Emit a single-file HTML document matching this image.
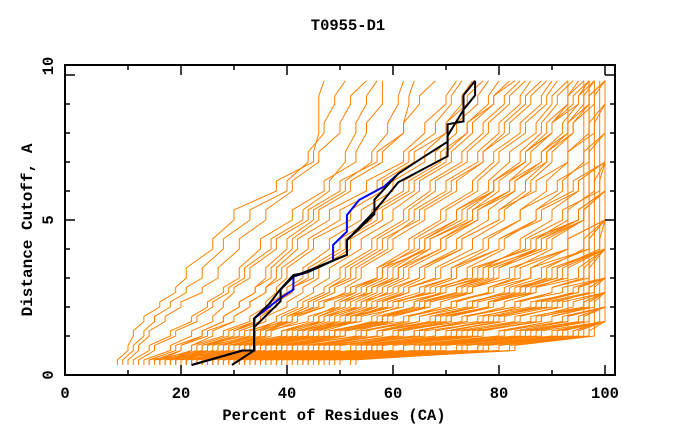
<!DOCTYPE html>
<html><head><meta charset="utf-8"><style>
html,body{margin:0;padding:0;background:#fff;}
svg{display:block;}
text{font-family:"Liberation Mono",monospace;font-weight:bold;fill:#000;}
</style></head><body>
<svg id="chart" width="680" height="440" viewBox="0 0 680 440">
<text x="348" y="30" text-anchor="middle" font-size="15.5">T0955-D1</text>
<text x="334" y="420" text-anchor="middle" font-size="15.5">Percent of Residues (CA)</text>
<text transform="translate(32,230) rotate(-90)" text-anchor="middle" font-size="16">Distance Cutoff, A</text>
<g id="series"></g>
<g id="axes"></g>
</svg>
<script>
const cutoffs = [0,0.5,1,1.5,2,2.5,3,4,5,6,7,8,9,9.8];
const xTicks = [0,10,20,30,40,50,60,70,80,90,100];
const xTickLabels = ["0","20","40","60","80","100"];
const yTickLabels = ["0","5","10"];
const models = [
[8,10,11,13,16,19,21,26,30,38,45,46,46,47],
[10,12,14,17,20,24,27,31,36,41,46,50,52,55],
[11,14,18,22,25,28,31,35,41,47,53,55,58,58],
[13,18,22,26,28,30,33,38,44,50,57,62,65,68],
[15,20,25,30,33,36,38,42,48,55,62,66,70,72],
[16,22,28,33,36,38,40,45,52,58,64,70,73,75],
[18,24,30,35,38,41,44,50,56,62,68,72,76,78],
[19,26,33,38,42,45,48,54,60,65,71,75,79,82],
[20,28,35,40,44,48,51,57,63,68,74,78,82,85],
[21,30,37,42,47,51,54,60,66,72,77,81,85,88],
[22,31,39,45,49,53,57,63,69,75,79,84,88,90],
[23,33,41,47,52,56,60,66,72,78,82,87,90,93],
[24,34,43,49,54,58,62,69,75,80,85,89,93,95],
[25,36,45,51,56,61,65,72,78,83,88,92,95,97],
[26,37,47,53,58,63,68,75,81,86,90,94,97,100],
[27,39,49,56,61,66,71,78,84,89,93,97,100],
[28,41,51,58,64,69,74,81,87,92,96,100],
[29,42,53,60,66,72,77,84,90,95,100],
[30,44,55,63,69,75,80,87,93,98,100],
[31,46,57,65,72,78,83,90,96,100],
[32,48,60,68,75,81,86,93,100],
[33,50,62,71,78,84,89,96,100],
[34,52,65,74,81,87,92,100],
[35,54,68,77,84,90,96,100],
[36,56,71,80,87,94,100],
[37,58,74,84,91,97,100],
[38,60,77,87,94,100],
[39,62,80,90,97,100],
[40,65,83,93,100],
[42,68,86,96,100],
[44,72,90,100],
[46,76,94,100],
[48,80,97,100],
[50,83,98],
[14,24,32,40,46,52,57,65,72,79,85,90,95,98],
[15,27,36,44,50,56,61,69,76,83,89,94,98,100],
[17,29,39,47,54,60,65,73,80,87,93,98,100],
[18,31,42,50,57,63,69,77,84,91,97,100],
[20,34,45,53,60,67,72,80,88,95,100],
[22,36,48,57,64,70,76,85,92,99,100],
[24,39,51,60,67,74,80,89,96,100],
[26,41,54,63,71,78,84,93,100],
[28,44,57,67,75,82,88,97,100],
[30,47,61,71,79,86,93,100],
[32,50,64,74,83,90,97,100],
[34,53,68,78,87,95,100],
[36,57,72,83,92,100],
[38,60,76,88,96,100],
[41,64,81,92,100],
[43,67,85,96,100],
[45,70,88,100],
[47,74,92,100],
[50,78,95,100],
[52,82,97],
[44,66,80,90,98,100],
[39,58,70,80,88,95,100],
[33,48,60,70,78,85,91,99,100],
[27,40,50,59,66,73,79,88,95,100],
[16,25,34,41,47,53,58,67,75,82,88,93,97,100],
[21,33,44,52,59,65,71,80,87,94,100],
[25,38,49,58,65,72,78,87,95,100],
[29,45,58,68,76,84,91,100],
[35,55,70,81,90,98,100],
[42,66,84,95,100],
[46,73,91,100],
[9,11,13,15,18,21,24,28,33,40,44,47,49,51],
[12,15,19,23,26,29,32,37,43,48,51,53,55,57],
[14,19,24,28,31,34,37,41,46,52,58,62,63,64],
[17,23,29,34,37,40,43,48,54,60,66,70,74,77],
[19,25,31,36,40,43,46,52,58,64,70,74,78,80],
[20,27,34,39,43,47,50,56,62,67,73,77,81,84],
[22,29,36,41,45,49,53,59,64,70,76,80,84,86],
[23,32,40,46,50,54,58,64,70,76,80,85,89,91],
[24,33,42,48,53,57,61,67,74,79,84,88,91,94],
[25,35,44,50,55,59,63,70,76,82,86,90,93,96],
[26,36,46,52,57,62,66,73,80,85,89,93,96,98],
[18,22,26,30,33,36,39,44,50,57,63,68,71,73],
[16,20,24,28,31,34,36,40,45,51,56,59,61,62],
[21,25,30,34,38,41,45,51,57,63,69,74,79,83],
[24,30,36,40,44,48,52,58,65,71,77,82,86,89],
[27,34,40,46,51,55,59,66,73,79,85,90,94,97],
[15,30,42,52,60,68,75,86,95,100],
[19,35,48,58,67,75,82,93,100],
[23,40,54,65,74,83,90,100],
[28,46,61,73,83,92,100],
[31,50,66,79,89,97,100],
[35,56,73,86,96,100],
[40,62,80,93,100],
[17,32,44,54,62,70,77,88,96,100],
[21,38,51,62,71,79,86,97,100],
[25,43,57,69,78,87,95,100],
[30,49,64,76,86,95,100],
[37,58,75,88,97,100],
[43,69,87,97],
[48,76,93],
[53,80,96],
[49,77,94,99]
];
const blackX1 = [22,31.6,33.8,33.8,36.6,38.7,41.2,43.9,48.7,51.3,51.3,56.5,56.5,61,66,70.3,70.3,73.3,73.3,75.5];
const blackY1 = [0,0.5,0.5,1.6,2.1,2.6,3.1,3.2,3.6,3.8,4.3,5.2,5.7,6.6,7.2,7.7,8.3,8.4,9.3,9.8];
const blackX2 = [29.6,33.8,33.8,38.8,38.8,41.2,46,51.3,51.3,56.5,61,70.3,70.3,73.3,75.5,75.5];
const blackY2 = [0,0.5,1.3,2.2,2.6,3.05,3.4,3.8,4.3,5.3,6.3,7.2,7.9,8.8,9.3,9.8];
const blueX = [22,31.6,33.8,33.8,38.7,41.2,41.2,43.9,48.7,48.7,51.3,51.3,53.6,58.3,61];
const blueY = [0,0.5,0.5,1.6,2.3,2.6,3.05,3.2,3.6,4.14,4.6,5.17,5.69,6.15,6.6];

const NS = "http://www.w3.org/2000/svg";
const L = 65, R = 615, T = 65, B = 375;
function sx(v){ return 75 + 5.3 * v; }
function sy(v){ return 365 - 29 * v; }
const series = document.getElementById('series');
const axes = document.getElementById('axes');
const topCut = cutoffs[cutoffs.length - 1];

models.forEach(function(m){
  const pts = [];
  for (let j = 0; j < m.length; j++){
    if (j > 0){
      const yMid = cutoffs[j-1] + 0.35 * (cutoffs[j] - cutoffs[j-1]);
      pts.push(sx(m[j-1]).toFixed(1) + ',' + sy(yMid).toFixed(1));
    }
    pts.push(sx(m[j]).toFixed(1) + ',' + sy(cutoffs[j]).toFixed(1));
  }
  if (m.length < cutoffs.length){
    pts.push(sx(m[m.length-1]).toFixed(1) + ',' + sy(topCut).toFixed(1));
  }
  const pl = document.createElementNS(NS, 'polyline');
  pl.setAttribute('points', pts.join(' '));
  pl.setAttribute('fill', 'none');
  pl.setAttribute('stroke', '#ff8000');
  pl.setAttribute('stroke-width', '1');
  
  
  series.appendChild(pl);
});
function drawLine(xs, ys, color, name){
  const pts = xs.map(function(x, j){ return sx(x).toFixed(1) + ',' + sy(ys[j]).toFixed(1); }).join(' ');
  const pl = document.createElementNS(NS, 'polyline');
  pl.setAttribute('points', pts);
  pl.setAttribute('fill', 'none');
  pl.setAttribute('stroke', color);
  pl.setAttribute('stroke-width', '2');
  
  
  series.appendChild(pl);
}
drawLine(blueX, blueY, '#0000ff', 'highlight-curve-blue');
drawLine(blackX1, blackY1, '#000000', 'reference-curve-1');
drawLine(blackX2, blackY2, '#000000', 'reference-curve-2');

function line(x1,y1,x2,y2,name){
  const l = document.createElementNS(NS, 'line');
  l.setAttribute('x1', x1); l.setAttribute('y1', y1);
  l.setAttribute('x2', x2); l.setAttribute('y2', y2);
  l.setAttribute('stroke', '#000'); l.setAttribute('stroke-width', '1.5');
  
  
  axes.appendChild(l);
}
const frame = document.createElementNS(NS, 'rect');
frame.setAttribute('x', L); frame.setAttribute('y', T);
frame.setAttribute('width', R - L); frame.setAttribute('height', B - T);
frame.setAttribute('fill', 'none'); frame.setAttribute('stroke', '#000'); frame.setAttribute('stroke-width', '2');


axes.appendChild(frame);

xTicks.forEach(function(v){
  if (v === 0) return;
  const len = (v % 20 === 0) ? 10 : 5;
  line(sx(v), B, sx(v), B - len, 'x-tick');
  line(sx(v), T, sx(v), T + len, 'x-tick-top');
});
for (let v = 1; v <= 10; v++){
  const len = (v % 5 === 0) ? 10 : 5;
  line(L, sy(v), L + len, sy(v), 'y-tick');
  line(R, sy(v), R - len, sy(v), 'y-tick-right');
}
const xLabelPos = [65, sx(20), sx(40), sx(60), sx(80), sx(100)];
xTickLabels.forEach(function(t, i){
  const tx = document.createElementNS(NS, 'text');
  tx.setAttribute('x', xLabelPos[i]); tx.setAttribute('y', 398);
  tx.setAttribute('text-anchor', 'middle'); tx.setAttribute('font-size', '15.5');
  tx.textContent = t;
  
  
  axes.appendChild(tx);
});
const yLabelPos = [375, sy(5), 66];
yTickLabels.forEach(function(t, i){
  const tx = document.createElementNS(NS, 'text');
  tx.setAttribute('transform', 'translate(53,' + yLabelPos[i] + ') rotate(-90)');
  tx.setAttribute('text-anchor', 'middle'); tx.setAttribute('font-size', '15.5');
  tx.textContent = t;
  
  
  axes.appendChild(tx);
});
</script>
</body></html>
